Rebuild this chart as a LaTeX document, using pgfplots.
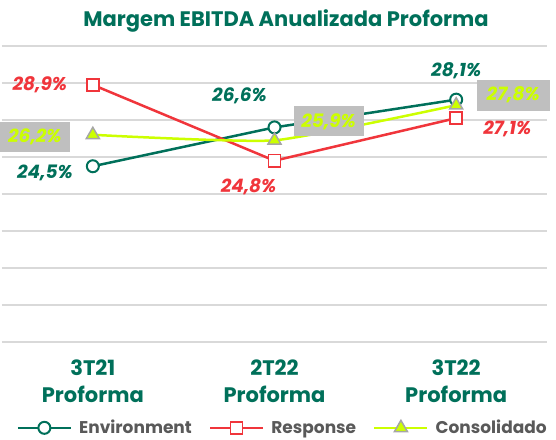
\documentclass[border=0pt]{standalone}
\usepackage{fontspec}
\setmainfont{Poppins}
\usepackage{pgfplots}
\pgfplotsset{compat=1.18}
\definecolor{cgreen}{HTML}{00705A}
\definecolor{cred}{HTML}{F0353B}
\definecolor{clime}{HTML}{CCFF00}
\definecolor{cgrid}{HTML}{D9D9D9}
\definecolor{ctext}{HTML}{595959}
\definecolor{cbox}{HTML}{BFBFBF}
\definecolor{cmark}{HTML}{A6A6A6}
\begin{document}
\begin{tikzpicture}[x=1pt,y=1pt]
\useasboundingbox (0,0) rectangle (556,439);
\node[font=\fontsize{21}{24}\selectfont\bfseries, text=cgreen] at (286,418) {Margem EBITDA Anualizada Proforma};
\begin{axis}[
  at={(2pt,97pt)}, anchor=south west,
  scale only axis, width=545pt, height=296pt,
  xmin=-0.5, xmax=2.5, ymin=15, ymax=31,
  ytick={15,17,...,31}, yticklabels={},
  ymajorgrids, grid style={cgrid, line width=1.2pt},
  axis line style={draw=none},
  major tick length=0pt,
  xtick={0,1,2},
  xticklabels={3T21\\Proforma,2T22\\Proforma,3T22\\Proforma},
  xticklabel style={align=center, text=cgreen, font=\fontsize{21}{27}\selectfont\bfseries, inner sep=0pt, yshift=-18pt},
  clip=false,
  legend columns=3,
  legend style={at={(0.515,-0.29)}, anchor=center, draw=none, fill=none,
    font=\fontsize{17}{20}\selectfont\bfseries, text=ctext,
    /tikz/every odd column/.style={column sep=5pt},
    /tikz/every even column/.style={column sep=15pt}},
  legend image code/.code={\draw[mark repeat=2,mark phase=2] plot coordinates {(0pt,0pt) (26.5pt,0pt) (53pt,0pt)};},
]
\addplot[cgreen, line width=2.5pt, mark=*, mark size=6pt, mark options={fill=white, draw=cgreen, line width=2pt}]
  coordinates {(0,24.5) (1,26.6) (2,28.1)};
\addlegendentry{Environment}
\addplot[cred, line width=2.5pt, mark=square*, mark size=6pt, mark options={fill=white, draw=cred, line width=1.6pt}]
  coordinates {(0,28.9) (1,24.8) (2,27.1)};
\addlegendentry{Response}
\addplot[clime, line width=2.5pt, smooth, tension=0.3, mark=triangle*, mark size=7.5pt, mark options={fill=clime, draw=cmark, line width=1.5pt}]
  coordinates {(0,26.2) (1,25.9) (2,27.8)};
\addlegendentry{Consolidado}
% labels
\begin{scope}[every node/.style={font=\fontsize{18.5}{22}\selectfont\bfseries\itshape}]
\node[text=cgreen, xshift=-48pt, yshift=-7pt] at (axis cs:0,24.5) {24,5\%};
\node[text=cgreen, xshift=-35pt, yshift=32pt] at (axis cs:1,26.6) {26,6\%};
\node[text=cgreen, xshift=0pt, yshift=29pt] at (axis cs:2,28.1) {28,1\%};
\node[text=cred, xshift=-53pt, yshift=0pt] at (axis cs:0,28.9) {28,9\%};
\node[text=cred, xshift=-26pt, yshift=-26pt] at (axis cs:1,24.8) {24,8\%};
\node[text=cred, xshift=51pt, yshift=-11pt] at (axis cs:2,27.1) {27,1\%};
\node[text=clime, fill=cbox, minimum width=70pt, minimum height=30pt, inner sep=0pt, xshift=-58pt, yshift=-2pt] at (axis cs:0,26.2) {26,2\%};
\node[text=clime, fill=cbox, minimum width=70pt, minimum height=30pt, inner sep=0pt, xshift=54pt, yshift=19pt] at (axis cs:1,25.9) {25,9\%};
\node[text=clime, fill=cbox, minimum width=73pt, minimum height=31pt, inner sep=0pt, xshift=57pt, yshift=10pt] at (axis cs:2,27.8) {27,8\%};
\end{scope}
\end{axis}
\end{tikzpicture}
\end{document}
